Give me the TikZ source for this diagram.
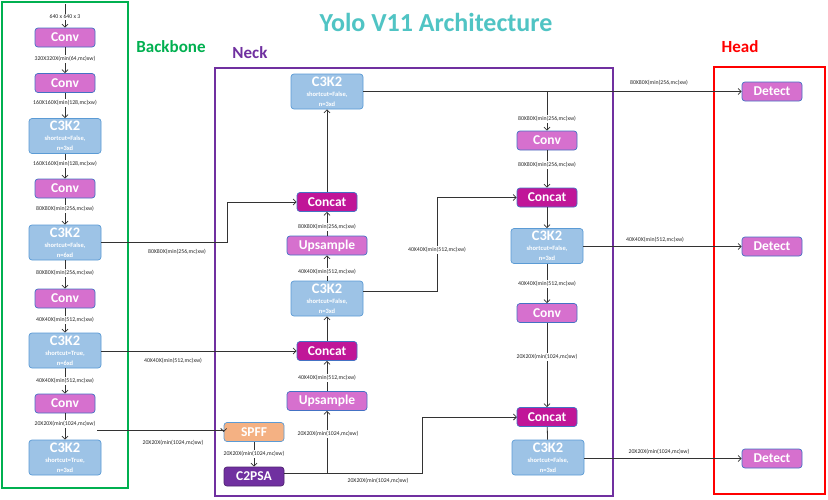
\documentclass[tikz,border=0pt]{standalone}
\usepackage{fontspec}
\setmainfont{Carlito}
\usetikzlibrary{arrows.meta}
\definecolor{convc}{RGB}{214,112,206}
\definecolor{catc}{RGB}{192,22,152}
\definecolor{c3c}{RGB}{157,195,230}
\definecolor{c3line}{RGB}{91,155,213}
\definecolor{boxline}{RGB}{68,114,196}
\definecolor{spffc}{RGB}{244,177,131}
\definecolor{psac}{RGB}{112,48,160}
\definecolor{titlec}{RGB}{80,196,196}
\definecolor{bbgreen}{RGB}{0,176,80}
\definecolor{neckc}{RGB}{112,48,160}
\newcommand\cthreek[2]{C3K2\\{\fontsize{6.5}{10}\selectfont #1}\\{\fontsize{6.5}{10}\selectfont #2}}
\begin{document}
\begin{tikzpicture}[x=1pt,y=-1pt,
  box/.style={draw=boxline, line width=0.7pt, rounded corners=3pt, text=white,
    font=\bfseries\fontsize{13.5}{13.5}\selectfont, align=center, inner sep=0pt,
    minimum width=60pt, minimum height=19pt},
  conv/.style={box, fill=convc},
  ups/.style={box, fill=convc, minimum width=80pt},
  cat/.style={box, fill=catc},
  c3/.style={box, fill=c3c, draw=c3line, minimum width=72pt, minimum height=35pt,
    font=\bfseries\fontsize{14.5}{10}\selectfont},
  spff/.style={box, fill=spffc, draw=c3line},
  psa/.style={box, fill=psac, draw=psac!70!black},
  lab/.style={font=\fontsize{5.8}{5.8}\selectfont, fill=white, inner sep=1pt, text=black!85},
  arr/.style={-{Straight Barb[length=3pt,width=6pt]}, line width=0.8pt, draw=black!80},
  ln/.style={line width=0.8pt, draw=black!80},
  frame/.style={line width=2.6pt},
  ttl/.style={font=\bfseries\fontsize{17}{17}\selectfont}
]
\useasboundingbox (0,0) rectangle (828,499);
\fill[white] (0,0) rectangle (828,499);

% frames
\draw[frame, draw=bbgreen] (2,2) rectangle (128,488);
\draw[frame, draw=neckc] (215,68) rectangle (613,496);
\draw[frame, draw=red] (714,67) rectangle (825,494);

% titles
\node[font=\bfseries\fontsize{26}{26}\selectfont, text=titlec] (title) at (436,22) {Yolo V11 Architecture};
\node[ttl, text=bbgreen] (tbb) at (171,47) {Backbone};
\node[ttl, text=neckc] (tneck) at (250,53) {Neck};
\node[ttl, text=red] (thead) at (740,47) {Head};

% backbone
\coordinate (in0) at (65,4);
\node[conv] (b1) at (65,37.5) {Conv};
\node[conv] (b2) at (65,83) {Conv};
\node[c3] (b3) at (65,136) {\cthreek{shortcut=False,}{n=3xd}};
\node[conv] (b4) at (65,188.5) {Conv};
\node[c3] (b5) at (65,242.5) {\cthreek{shortcut=False,}{n=6xd}};
\node[conv] (b6) at (65,298.5) {Conv};
\node[c3] (b7) at (65,350.5) {\cthreek{shortcut=True,}{n=6xd}};
\node[conv] (b8) at (65,403.5) {Conv};
\node[c3] (b9) at (65,457.5) {\cthreek{shortcut=True,}{n=3xd}};

\draw[arr] (in0) -- (b1);
\draw[arr] (b1) -- (b2);
\draw[arr] (b2) -- (b3);
\draw[arr] (b3) -- (b4);
\draw[arr] (b4) -- (b5);
\draw[arr] (b5) -- (b6);
\draw[arr] (b6) -- (b7);
\draw[arr] (b7) -- (b8);
\draw[arr] (b8) -- (b9);

% neck left column
\node[c3] (n1) at (327,91.5) {\cthreek{shortcut=False,}{n=3xd}};
\node[cat] (n2) at (327,202) {Concat};
\node[ups] (n3) at (327,245.5) {Upsample};
\node[c3] (n4) at (327,298.5) {\cthreek{shortcut=False,}{n=3xd}};
\node[cat] (n5) at (327,351) {Concat};
\node[ups] (n6) at (327,401) {Upsample};
\node[spff] (sp) at (254,432) {SPFF};
\node[psa] (ps) at (254,476.5) {C2PSA};

\draw[arr] (n2) -- (n1);
\draw[arr] (n3) -- (n2);
\draw[arr] (n4) -- (n3);
\draw[arr] (n5) -- (n4);
\draw[arr] (n6) -- (n5);
\draw[arr] (sp) -- (ps);

\coordinate (j1) at (327,473);
\coordinate (k1) at (422,473);
\draw[ln] (ps.east |- j1) -- (j1);
\draw[arr] (j1) -- (n6);
\draw[arr] (j1) -- (k1) |- (517,417);

% backbone to neck
\coordinate (bk1) at (227,242);
\draw[arr] (b5.east |- bk1) -- (bk1) |- (n2.west);
\draw[arr] (b7.east |- n5) -- (n5.west);
\coordinate (bk3) at (97,430);
\draw[arr] (bk3) -- (bk3 -| sp.west) -- (sp.west);

% neck right column
\node[conv] (r1) at (547,140.5) {Conv};
\node[cat] (r2) at (547,197.5) {Concat};
\node[c3] (r3) at (547,246) {\cthreek{shortcut=False,}{n=3xd}};
\node[conv] (r4) at (547,313) {Conv};
\node[cat] (r5) at (547,417) {Concat};
\node[c3] (r6) at (548,457.5) {\cthreek{shortcut=False,}{n=3xd}};

% head
\node[conv] (d1) at (772,91.5) {Detect};
\node[conv] (d2) at (772,246.5) {Detect};
\node[conv] (d3) at (772,458.5) {Detect};

\draw[arr] (n1.east |- d1) -- (d1.west);
\coordinate (j2) at (547,91.5);
\draw[arr] (j2) -- (r1);
\draw[arr] (r1) -- (r2);
\draw[arr] (r2) -- (r3);
\draw[arr] (r3) -- (r4);
\draw[arr] (r4) -- (r5);
\draw[ln] (r5) -- (r6);
\coordinate (k2) at (437,291);
\draw[arr] (n4.east |- k2) -- (k2) |- (r2.west);
\draw[arr] (r3.east |- d2) -- (d2.west);
\draw[arr] (r6.east |- d3) -- (d3.west);

% labels
\node[lab] (l1) at (65,17) {640 x 640 x 3};
\node[lab] (l2) at (65,59) {320X320X(min(64,mc)xw)};
\node[lab] (l3) at (65,103) {160X160X(min(128,mc)xw)};
\node[lab] (l4) at (65,164) {160X160X(min(128,mc)xw)};
\node[lab] (l5) at (65,209) {80X80X(min(256,mc)xw)};
\node[lab] (l6) at (65,273) {80X80X(min(256,mc)xw)};
\node[lab] (l7) at (65,320) {40X40X(min(512,mc)xw)};
\node[lab] (l8) at (65,381) {40X40X(min(512,mc)xw)};
\node[lab] (l9) at (65,424) {20X20X(min(1024,mc)xw)};

\node[lab] (m1) at (177,252) {80X80X(min(256,mc)xw)};
\node[lab] (m2) at (173,361) {40X40X(min(512,mc)xw)};
\node[lab] (m3) at (173,443) {20X20X(min(1024,mc)xw)};

\node[lab] (m4) at (327,227) {80X80X(min(256,mc)xw)};
\node[lab] (m5) at (327,272) {40X40X(min(512,mc)xw)};
\node[lab] (m6) at (327,378) {40X40X(min(512,mc)xw)};
\node[lab] (m7) at (328,434) {20X20X(min(1024,mc)xw)};
\node[lab] (m8) at (254,454) {20X20X(min(1024,mc)xw)};
\node[lab, fill=none] (m9) at (378,481) {20X20X(min(1024,mc)xw)};

\node[lab] (m10) at (547,119) {80X80X(min(256,mc)xw)};
\node[lab] (m11) at (547,165) {80X80X(min(256,mc)xw)};
\node[lab] (m12) at (437,250) {40X40X(min(512,mc)xw)};
\node[lab] (m13) at (547,284) {40X40X(min(512,mc)xw)};
\node[lab] (m14) at (547,357) {20X20X(min(1024,mc)xw)};

\node[lab, fill=none] (h1) at (659,83) {80X80X(min(256,mc)xw)};
\node[lab, fill=none] (h2) at (655,240) {40X40X(min(512,mc)xw)};
\node[lab, fill=none] (h3) at (659,452) {20X20X(min(1024,mc)xw)};
\end{tikzpicture}
\end{document}
